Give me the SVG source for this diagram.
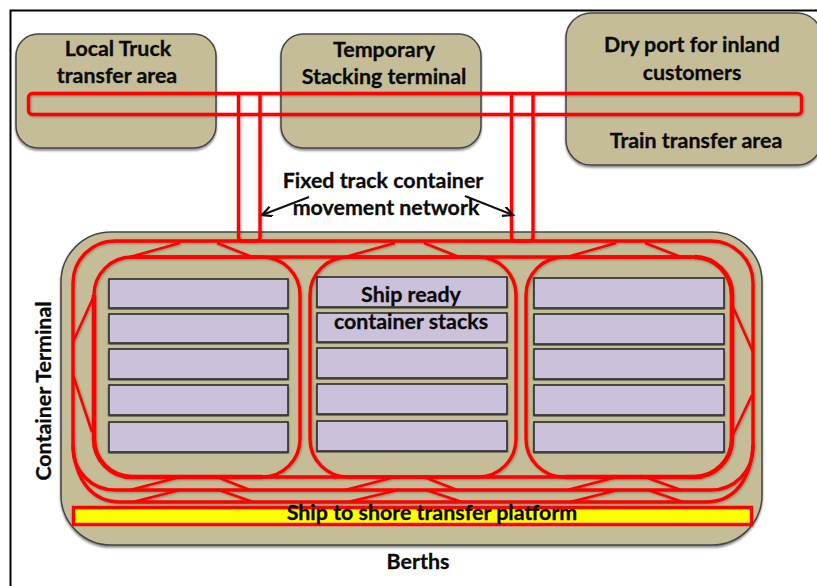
<svg xmlns="http://www.w3.org/2000/svg" width="817" height="586" viewBox="0 0 817 586">
<defs>
<filter id="sh" x="-5%" y="-5%" width="110%" height="110%"><feGaussianBlur in="SourceAlpha" stdDeviation="1.2"/><feOffset dy="1.5"/><feComponentTransfer><feFuncA type="linear" slope="0.45"/></feComponentTransfer><feMerge><feMergeNode/><feMergeNode in="SourceGraphic"/></feMerge></filter>
<filter id="ts" x="-5%" y="-5%" width="110%" height="110%"><feGaussianBlur in="SourceAlpha" stdDeviation="1"/><feOffset dx="0.5" dy="1"/><feComponentTransfer><feFuncA type="linear" slope="0.3"/></feComponentTransfer><feMerge><feMergeNode/><feMergeNode in="SourceGraphic"/></feMerge></filter>
<marker id="arr" markerWidth="14" markerHeight="12" refX="11" refY="5" orient="auto" markerUnits="userSpaceOnUse"><path d="M1 0L11 5L1 10" fill="none" stroke="#111" stroke-width="2.2"/></marker>
</defs>
<style>
.area{fill:#c4bd97;stroke:#444;stroke-width:1.5;filter:url(#sh)}
.stack{fill:#ccc1da;stroke:#2a2a2a;stroke-width:1.6;filter:url(#sh)}
.t{fill:none;stroke:#f00;stroke-width:3.4;stroke-linejoin:round}
.k{fill:none;stroke:#f00;stroke-width:4.6}
.d{fill:none;stroke:#f00;stroke-width:2.6}
.l{font-family:"Lato","Open Sans","Liberation Sans",sans-serif;font-weight:700;font-size:21.4px;fill:#0a0a0a;stroke:#0a0a0a;stroke-width:0.3;text-anchor:middle}
</style>
<rect width="817" height="586" fill="#fff"/>
<path d="M817 10.5H10.5V586" fill="none" stroke="#000" stroke-width="2"/>
<g id="local-truck"><rect class="area" x="16" y="34" width="200" height="114" rx="22"/><text class="l" x="118" y="56">Local Truck</text><text class="l" x="117" y="83">transfer area</text></g>
<g id="temporary-stacking"><rect class="area" x="281" y="34" width="200" height="114" rx="22"/><text class="l" x="384" y="57">Temporary</text><text class="l" x="384" y="84">Stacking terminal</text></g>
<g id="dry-port"><rect class="area" x="566" y="13" width="256" height="152" rx="25"/><text class="l" x="692" y="52">Dry port for inland</text><text class="l" x="692" y="80">customers</text><text class="l" x="696" y="148">Train transfer area</text></g>
<g id="container-terminal"><rect class="area" x="61" y="232" width="701" height="313" rx="50"/></g>
<g id="connectors" filter="url(#ts)">
<rect class="t" x="28.500" y="93.500" width="773" height="21" rx="4"/>
<path class="t" d="M238.500 93.500V237q0 4 4 4H256q4 0 4-4V93.500"/>
<path class="t" d="M511.500 93.500V237q0 4 4 4H529q4 0 4-4V93.500"/>
<rect class="t" x="73" y="241" width="680" height="249" rx="42"/>
<path class="t" d="M73 445C75 480 92 502 120 502H706C734 502 751 480 753 445"/>
<rect class="t" x="94" y="257" width="206" height="220" rx="38"/>
<rect class="t" x="310" y="257" width="206" height="220" rx="38"/>
<rect class="t" x="526" y="257" width="206" height="220" rx="38"/>
<path class="t" d="M130 257H692M130 477H692"/>
<path class="k" d="M94 295V439A38 38 0 0 0 132 477H262M732 295A38 38 0 0 0 694 257M732 295V439A38 38 0 0 1 694 477H565"/>
<path class="d" d="M130 257L180 243M217 243L252 257M345 257L395 243M424 243L459 257M567 257L616 243M645 243L681 257M130 490L180 477M217 477L250 490M345 490L395 477M424 477L457 490M567 490L617 477M645 477L681 490M133 502L180 490M219 490L253 502M348 502L398 490M426 490L462 502M570 502L618 490M648 490L683 502M73 342L93 298M73 375L92 432M733 307L753 352M752 395L732 437"/>
</g>
<g id="stacks">
<rect class="stack" x="109" y="279" width="179" height="29"/><rect class="stack" x="109" y="314" width="179" height="29"/><rect class="stack" x="109" y="349" width="179" height="30"/><rect class="stack" x="109" y="385" width="179" height="30"/><rect class="stack" x="109" y="422" width="179" height="30"/>
<rect class="stack" x="317" y="277" width="190" height="30"/><rect class="stack" x="317" y="313" width="190" height="29"/><rect class="stack" x="317" y="348" width="190" height="30"/><rect class="stack" x="317" y="384" width="190" height="30"/><rect class="stack" x="317" y="421" width="190" height="30"/>
<rect class="stack" x="534" y="278" width="190" height="30"/><rect class="stack" x="534" y="314" width="190" height="30"/><rect class="stack" x="534" y="349" width="190" height="30"/><rect class="stack" x="534" y="385" width="190" height="30"/><rect class="stack" x="534" y="422" width="190" height="30"/>
</g>
<g id="platform"><rect x="73.500" y="507.500" width="678" height="17" fill="#ff0" stroke="#f00" stroke-width="3.500"/><text class="l" x="432" y="520">Ship to shore transfer platform</text></g>
<g id="arrows"><path d="M309 197L262 215" fill="none" stroke="#111" stroke-width="2.200" marker-end="url(#arr)"/><path d="M465 196L513 215" fill="none" stroke="#111" stroke-width="2.200" marker-end="url(#arr)"/></g>
<text class="l" x="383" y="188">Fixed track container</text>
<text class="l" x="386" y="215">movement network</text>
<text class="l" x="411" y="302">Ship ready</text>
<text class="l" x="411" y="329">container stacks</text>
<text class="l" transform="translate(51 391) rotate(-90)">Container Terminal</text>
<text class="l" x="418" y="569">Berths</text>
</svg>
